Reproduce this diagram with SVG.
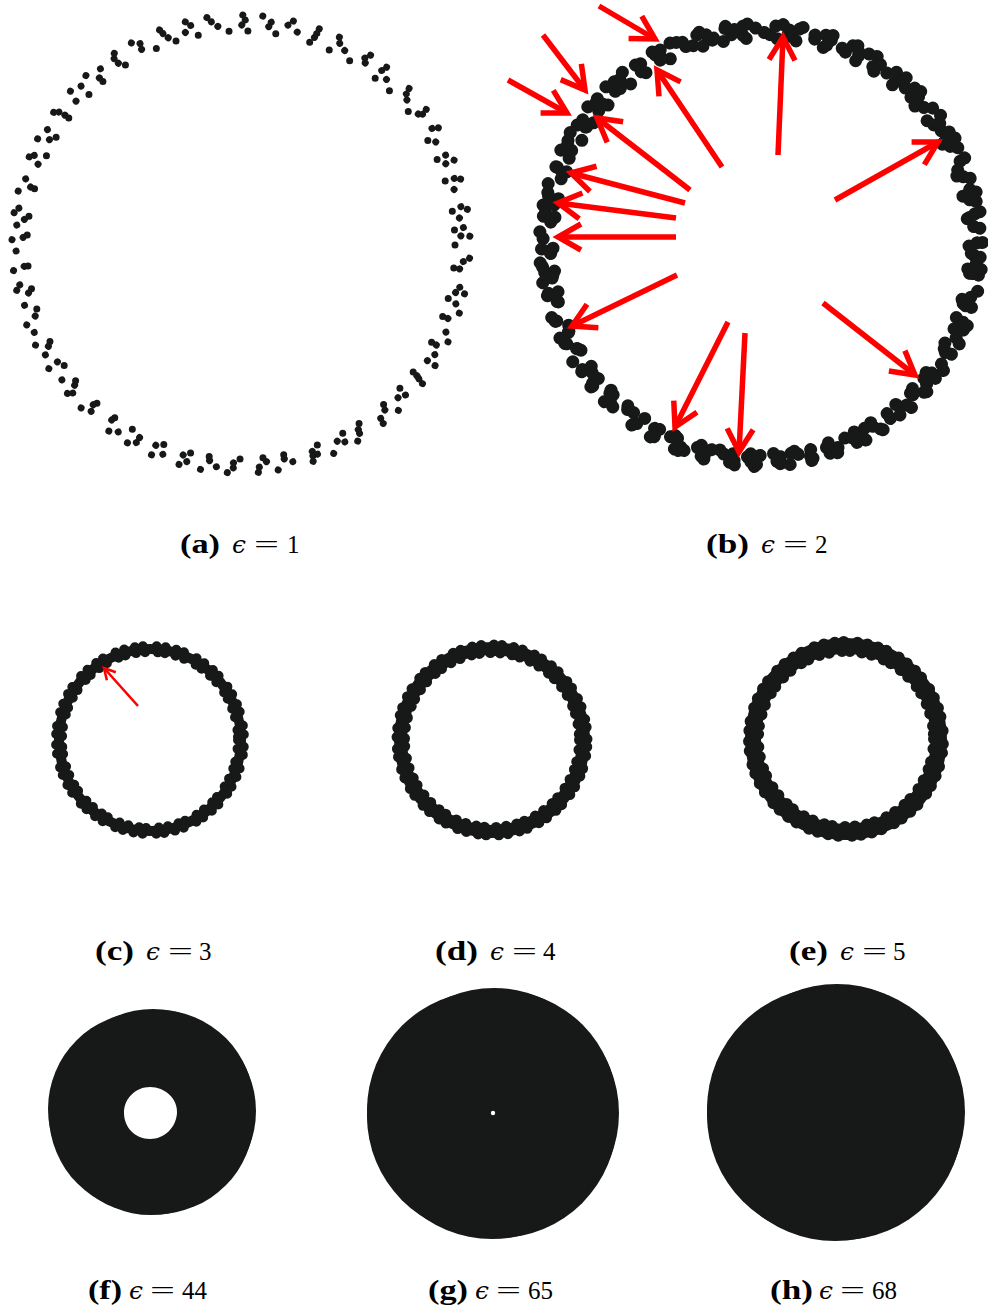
<svg xmlns="http://www.w3.org/2000/svg" width="988" height="1310" viewBox="0 0 988 1310">
<style>
.d{fill:none;stroke:#171918;stroke-linecap:round}
.da{stroke-width:7}
.db{stroke-width:13}
.p1{stroke-dasharray:0 23 0 31 0 19 0 28 0 35 0 21}
.p2{stroke-dasharray:0 29 0 18 0 33 0 24 0 27}
.p3{stroke-dasharray:0 21 0 34 0 26 0 17 0 30 0 25 0 29}
.p4{stroke-dasharray:0 27 0 22 0 36 0 20 0 31}
.band{fill:none;stroke:#171918}
.blob{fill:#171918}
.arr{fill:none;stroke:#ff0000;stroke-width:5.5;stroke-linecap:butt}
.arrs{fill:none;stroke:#ff0000;stroke-width:2.6}
.lab{font-family:"Liberation Serif","DejaVu Serif",serif;font-size:28px;font-weight:bold;fill:#000}
.cap{font-family:"Liberation Serif","DejaVu Serif",serif;font-size:25px;fill:#000}
.i{font-style:italic;font-family:"DejaVu Serif","Liberation Serif",serif;font-size:25px}
.eq{font-family:"Liberation Serif","DejaVu Serif",serif;font-size:25px;fill:#000}
</style>
<defs>
<marker id="ah" markerUnits="userSpaceOnUse" orient="auto" refX="0" refY="0" markerWidth="60" markerHeight="60" overflow="visible">
<path d="M-23,-13 L0,0 L-23,13" fill="none" stroke="#ff0000" stroke-width="5.5" stroke-linejoin="miter"/>
</marker>
<marker id="ahs" markerUnits="userSpaceOnUse" orient="auto" refX="0" refY="0" markerWidth="30" markerHeight="30" overflow="visible">
<path d="M-11,-6 L0,0 L-11,6" fill="none" stroke="#ff0000" stroke-width="2.6" stroke-linejoin="miter"/>
</marker>
</defs>
<rect width="988" height="1310" fill="#fff"/>

<g id="panel-a">
<circle class="d da p1" cx="241" cy="245" r="214"/>
<circle class="d da p2" cx="242" cy="244" r="219" transform="rotate(37 242 244)"/>
<circle class="d da p3" cx="240" cy="244" r="224" transform="rotate(71 240 244)"/>
<circle class="d da p4" cx="241" cy="244" r="229" transform="rotate(113 241 244)"/>
</g>

<g id="panel-b">
<circle class="d db p1" cx="761" cy="246" r="208"/>
<circle class="d db p4" cx="761" cy="245" r="210.5" transform="rotate(191 761 245)"/>
<circle class="d db p2" cx="762" cy="245" r="212.5" transform="rotate(37 762 245)"/>
<circle class="d db p3" cx="760" cy="245" r="217" transform="rotate(71 760 245)"/>
<circle class="d db p2" cx="761" cy="245" r="219.5" transform="rotate(253 761 245)"/>
<circle class="d db p4" cx="761" cy="245" r="221.5" transform="rotate(113 761 245)"/>
</g>

<g id="panel-c">
<circle class="band" cx="150" cy="740" r="91" stroke-width="10"/>
<circle class="d" stroke-width="10" cx="150" cy="740" r="88" stroke-dasharray="0 9 0 13 0 7 0 11"/>
<circle class="d" stroke-width="10" cx="150" cy="740" r="94" stroke-dasharray="0 11 0 8 0 14 0 9" stroke-dashoffset="4"/>
</g>

<g id="panel-d">
<circle class="band" cx="492" cy="740" r="91.5" stroke-width="13"/>
<circle class="d" stroke-width="11" cx="492" cy="740" r="87.5" stroke-dasharray="0 10 0 12 0 8 0 11"/>
<circle class="d" stroke-width="11" cx="492" cy="740" r="95" stroke-dasharray="0 12 0 9 0 13 0 8" stroke-dashoffset="5"/>
</g>

<g id="panel-e">
<circle class="band" cx="846" cy="739" r="93" stroke-width="16"/>
<circle class="d" stroke-width="12" cx="846" cy="739" r="88" stroke-dasharray="0 10 0 13 0 8 0 12"/>
<circle class="d" stroke-width="12" cx="846" cy="739" r="97" stroke-dasharray="0 11 0 9 0 14 0 10" stroke-dashoffset="6"/>
</g>

<g id="panel-f">
<circle class="blob" cx="152" cy="1111" r="100"/>
<circle class="blob" cx="159" cy="1111" r="97"/>
<circle class="blob" cx="157" cy="1117" r="97"/>
<circle class="blob" cx="151" cy="1118" r="97"/>
<circle class="blob" cx="146" cy="1115" r="97"/>
<circle class="blob" cx="145" cy="1109" r="97"/>
<circle class="blob" cx="153" cy="1105" r="96"/>
<circle class="blob" cx="158" cy="1106" r="96"/>
<path d="M150,1087 C165,1087 178,1099 177,1113 C176,1128 164,1139 150,1139 C135,1139 124,1127 124,1113 C124,1098 136,1087 150,1087 Z" fill="#fff"/>
</g>

<g id="panel-g">
<circle class="blob" cx="493" cy="1113" r="122"/>
<circle class="blob" cx="500" cy="1113" r="119"/>
<circle class="blob" cx="498" cy="1119" r="119"/>
<circle class="blob" cx="492" cy="1120" r="119"/>
<circle class="blob" cx="486" cy="1116" r="119"/>
<circle class="blob" cx="486" cy="1110" r="119"/>
<circle class="blob" cx="494" cy="1106" r="118"/>
<circle class="blob" cx="499" cy="1108" r="118"/>
<circle cx="493" cy="1113" r="2.2" fill="#fff"/>
</g>

<g id="panel-h">
<circle class="blob" cx="836" cy="1112" r="125"/>
<circle class="blob" cx="843" cy="1112" r="122"/>
<circle class="blob" cx="841" cy="1118" r="122"/>
<circle class="blob" cx="835" cy="1119" r="122"/>
<circle class="blob" cx="829" cy="1115" r="122"/>
<circle class="blob" cx="829" cy="1109" r="122"/>
<circle class="blob" cx="837" cy="1105" r="121"/>
<circle class="blob" cx="842" cy="1107" r="121"/>
</g>

<g id="connectors">
<path class="arr" marker-end="url(#ah)" d="M599,6 L655,39"/>
<path class="arr" marker-end="url(#ah)" d="M543,35 L585,90"/>
<path class="arr" marker-end="url(#ah)" d="M508,80 L567,113"/>
<path class="arr" marker-end="url(#ah)" d="M722,167 L657,70"/>
<path class="arr" marker-end="url(#ah)" d="M778,155 L783,37"/>
<path class="arr" marker-end="url(#ah)" d="M690,190 L597,118"/>
<path class="arr" marker-end="url(#ah)" d="M685,203 L571,173"/>
<path class="arr" marker-end="url(#ah)" d="M676,218 L558,203"/>
<path class="arr" marker-end="url(#ah)" d="M676,237 L558,237"/>
<path class="arr" marker-end="url(#ah)" d="M677,275 L572,326"/>
<path class="arr" marker-end="url(#ah)" d="M835,200 L938,142"/>
<path class="arr" marker-end="url(#ah)" d="M823,303 L915,375"/>
<path class="arr" marker-end="url(#ah)" d="M728,322 L675,427"/>
<path class="arr" marker-end="url(#ah)" d="M745,333 L739,452"/>
<path class="arrs" marker-end="url(#ahs)" d="M138,706 L104,668"/>
</g>

<g id="captions">
<text class="lab" x="180" y="553" textLength="40" lengthAdjust="spacingAndGlyphs">(a)</text>
<text class="cap" y="553"><tspan class="i" x="232">ϵ</tspan><tspan x="287">1</tspan></text>
<text class="eq" x="254" y="553" textLength="25" lengthAdjust="spacingAndGlyphs">=</text>
<text class="lab" x="706" y="553" textLength="43" lengthAdjust="spacingAndGlyphs">(b)</text>
<text class="cap" y="553"><tspan class="i" x="761">ϵ</tspan><tspan x="815">2</tspan></text>
<text class="eq" x="783" y="553" textLength="25" lengthAdjust="spacingAndGlyphs">=</text>
<text class="lab" x="95" y="960" textLength="39" lengthAdjust="spacingAndGlyphs">(c)</text>
<text class="cap" y="960"><tspan class="i" x="146">ϵ</tspan><tspan x="199">3</tspan></text>
<text class="eq" x="168" y="960" textLength="25" lengthAdjust="spacingAndGlyphs">=</text>
<text class="lab" x="435" y="960" textLength="43" lengthAdjust="spacingAndGlyphs">(d)</text>
<text class="cap" y="960"><tspan class="i" x="490">ϵ</tspan><tspan x="543">4</tspan></text>
<text class="eq" x="512" y="960" textLength="25" lengthAdjust="spacingAndGlyphs">=</text>
<text class="lab" x="789" y="960" textLength="39" lengthAdjust="spacingAndGlyphs">(e)</text>
<text class="cap" y="960"><tspan class="i" x="840">ϵ</tspan><tspan x="893">5</tspan></text>
<text class="eq" x="862" y="960" textLength="25" lengthAdjust="spacingAndGlyphs">=</text>
<text class="lab" x="88" y="1299" textLength="34" lengthAdjust="spacingAndGlyphs">(f)</text>
<text class="cap" y="1299"><tspan class="i" x="129">ϵ</tspan><tspan x="182">44</tspan></text>
<text class="eq" x="150" y="1299" textLength="25" lengthAdjust="spacingAndGlyphs">=</text>
<text class="lab" x="428" y="1299" textLength="40" lengthAdjust="spacingAndGlyphs">(g)</text>
<text class="cap" y="1299"><tspan class="i" x="475">ϵ</tspan><tspan x="528">65</tspan></text>
<text class="eq" x="496" y="1299" textLength="25" lengthAdjust="spacingAndGlyphs">=</text>
<text class="lab" x="770" y="1299" textLength="43" lengthAdjust="spacingAndGlyphs">(h)</text>
<text class="cap" y="1299"><tspan class="i" x="819">ϵ</tspan><tspan x="872">68</tspan></text>
<text class="eq" x="840" y="1299" textLength="25" lengthAdjust="spacingAndGlyphs">=</text>
</g>
</svg>
